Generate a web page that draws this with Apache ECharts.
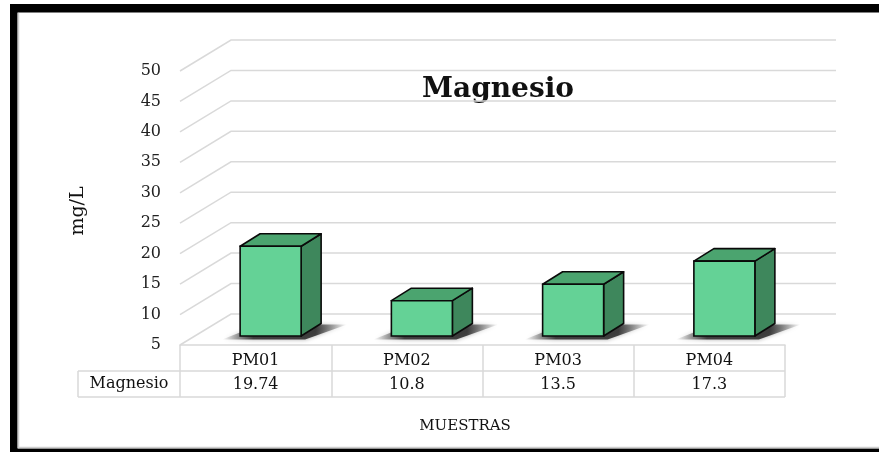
<!DOCTYPE html>
<html>
<head>
<meta charset="utf-8">
<script src="https://cdn.jsdelivr.net/npm/echarts@6/dist/echarts.min.js"></script>
<style>
html,body{margin:0;padding:0;background:#fff;}
#chart{width:879px;height:452px;}
</style>
</head>
<body>
<div id="chart"></div>
<script>
const categories = ['PM01', 'PM02', 'PM03', 'PM04'];
const magnesio = [19.74, 10.8, 13.5, 17.3];
const seriesName = 'Magnesio';
const yTicks = [5, 10, 15, 20, 25, 30, 35, 40, 45, 50];
const chartTitle = 'Magnesio';
const yAxisTitle = 'mg/L';
const xAxisTitle = 'MUESTRAS';

const Y_MIN = 5, Y_MAX = 50, Y_STEP = 5;
const DX = 51, DY = -31;          // depth of the 3D floor
const FX = 15, FY = -9;           // bar front-plane offset
const BDX = 20, BDY = -12.5;      // bar depth
const HW = 30.5;                  // bar half width
const SERIF = '"DejaVu Serif", "Liberation Serif", serif';
const GRID = '#d9d9d9';

const chart = echarts.init(document.getElementById('chart'), null, {renderer: 'canvas'});

function gridRender(params, api) {
  const t = api.value(1);
  const p = api.coord([0, t]);
  const cs = params.coordSys;
  const x0 = cs.x, y = p[1];
  return {
    type: 'polyline',
    shape: {points: [[x0, y], [x0 + DX, y + DY], [x0 + cs.width + DX, y + DY]]},
    style: {stroke: GRID, lineWidth: 1.5, fill: null},
    silent: true
  };
}

function barRender(params, api) {
  const i = api.value(0), v = api.value(1);
  const base = api.coord([i, Y_MIN]);
  const top = api.coord([i, v]);
  const cx = base[0] + FX;
  const yb = base[1] + FY, yt = top[1] + FY;
  const l = cx - HW, r = cx + HW;
  const stroke = '#0a0a0a', lw = 1.6;
  return {
    type: 'group',
    children: [
      {
        type: 'polygon',
        shape: {points: [[l - 18, yb + 3.5], [r + 4, yb + 3.5], [r + BDX + 26, yb + BDY + 1], [l + BDX, yb + BDY + 1]]},
        style: {
          fill: new echarts.graphic.LinearGradient(0, 0, 1, 0, [
            {offset: 0, color: 'rgba(60,60,60,0)'},
            {offset: 0.25, color: 'rgba(40,40,40,0.85)'},
            {offset: 0.75, color: 'rgba(40,40,40,0.85)'},
            {offset: 1, color: 'rgba(60,60,60,0)'}
          ]),
          shadowBlur: 4, shadowColor: 'rgba(0,0,0,0.4)'
        }
      },
      {
        type: 'polygon',
        shape: {points: [[r, yt], [r + BDX, yt + BDY], [r + BDX, yb + BDY], [r, yb]]},
        style: {fill: '#3e875c', stroke: stroke, lineWidth: lw, lineJoin: 'round'}
      },
      {
        type: 'polygon',
        shape: {points: [[l, yt], [l + BDX, yt + BDY], [r + BDX, yt + BDY], [r, yt]]},
        style: {fill: '#4ba46f', stroke: stroke, lineWidth: lw, lineJoin: 'round'}
      },
      {
        type: 'rect',
        shape: {x: l, y: yt, width: r - l, height: yb - yt},
        style: {fill: '#64d296', stroke: stroke, lineWidth: lw}
      }
    ]
  };
}

function tableValueRender(params, api) {
  const i = api.value(0), v = api.value(1);
  const base = api.coord([i, Y_MIN]);
  return {
    type: 'text',
    x: base[0], y: 385,
    style: {text: String(v), fill: '#111', font: '16px ' + SERIF, textAlign: 'center', textVerticalAlign: 'middle'}
  };
}

const option = {
  backgroundColor: '#ffffff',
  animation: false,
  grid: {left: 180, right: 94, top: 71, bottom: 107, containLabel: false},
  xAxis: {
    type: 'category',
    data: categories,
    axisLine: {show: true, lineStyle: {color: GRID, width: 1.5}},
    axisTick: {show: true, length: 52, lineStyle: {color: GRID, width: 1.5}},
    axisLabel: {color: '#111', fontFamily: SERIF, fontSize: 16, margin: 8},
    splitLine: {show: false}
  },
  yAxis: {
    type: 'value',
    min: Y_MIN, max: Y_MAX, interval: Y_STEP,
    axisLine: {show: false},
    axisTick: {show: false},
    splitLine: {show: false},
    axisLabel: {color: '#222', fontFamily: SERIF, fontSize: 16, margin: 19}
  },
  series: [
    {
      type: 'custom', name: 'grid', silent: true, z: 1,
      data: yTicks.map(t => [0, t]),
      renderItem: gridRender
    },
    {
      type: 'custom', name: seriesName, z: 3,
      data: magnesio.map((v, i) => [i, v]),
      renderItem: barRender
    },
    {
      type: 'custom', name: seriesName + ' table', z: 3, silent: true,
      data: magnesio.map((v, i) => [i, v]),
      renderItem: tableValueRender
    }
  ],
  graphic: [
    // frame
    {type: 'rect', shape: {x: 10, y: 4, width: 869, height: 8.5}, style: {fill: '#000'}},
    {type: 'rect', shape: {x: 10, y: 4, width: 7.5, height: 448}, style: {fill: '#000'}},
    {type: 'rect', shape: {x: 10, y: 448.5, width: 869, height: 4}, style: {fill: '#000'}},
    {type: 'line', shape: {x1: 18.5, y1: 13, x2: 18.5, y2: 448}, style: {stroke: '#cfcfcf', lineWidth: 1.5}},
    {type: 'line', shape: {x1: 18, y1: 447.5, x2: 879, y2: 447.5}, style: {stroke: '#cfcfcf', lineWidth: 1.5}},
    // table lines
    {type: 'line', shape: {x1: 78, y1: 371, x2: 785, y2: 371}, style: {stroke: GRID, lineWidth: 1.5}},
    {type: 'line', shape: {x1: 78, y1: 397, x2: 785, y2: 397}, style: {stroke: GRID, lineWidth: 1.5}},
    {type: 'line', shape: {x1: 78, y1: 371, x2: 78, y2: 397}, style: {stroke: GRID, lineWidth: 1.5}},
    {type: 'text', x: 129, y: 384, style: {text: seriesName, fill: '#111', font: '16px ' + SERIF, textAlign: 'center', textVerticalAlign: 'middle'}},
    // titles
    {type: 'text', x: 498, y: 90, style: {text: chartTitle, fill: '#111', font: 'bold 28px ' + SERIF, textAlign: 'center', textVerticalAlign: 'middle'}},
    {type: 'text', x: 78, y: 211, rotation: Math.PI / 2, style: {text: yAxisTitle, fill: '#111', font: '19px ' + SERIF, textAlign: 'center', textVerticalAlign: 'middle'}},
    {type: 'text', x: 465, y: 426, style: {text: xAxisTitle, fill: '#111', font: '15px ' + SERIF, textAlign: 'center', textVerticalAlign: 'middle'}}
  ]
};
chart.setOption(option);
</script>
</body>
</html>
